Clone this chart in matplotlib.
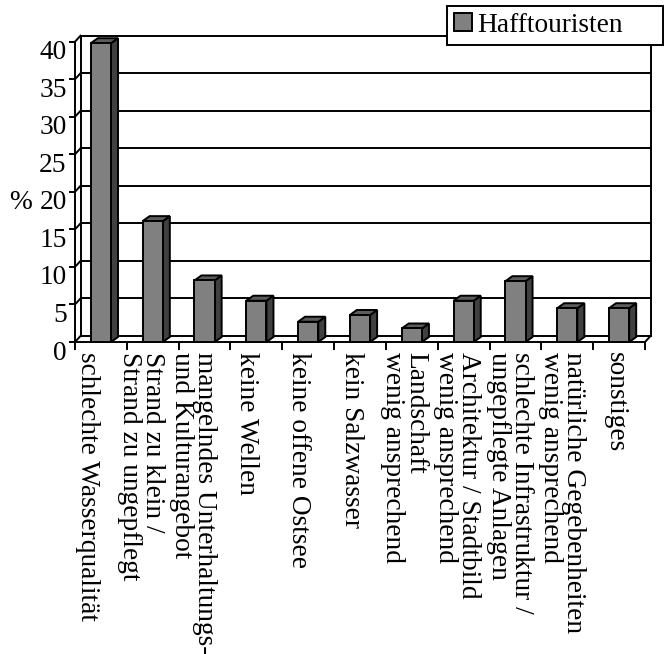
import matplotlib
matplotlib.use("Agg")
import matplotlib.pyplot as plt
import matplotlib.transforms as mtransforms
from matplotlib.patches import Rectangle, Polygon, Patch
import numpy as np

categories = [
    "schlechte Wasserqualität",
    "Strand zu klein /\nStrand zu ungepflegt",
    "mangelndes Unterhaltungs-\nund Kulturangebot",
    "keine Wellen",
    "keine offene Ostsee",
    "kein Salzwasser",
    "Landschaft\nwenig ansprechend",
    "Architektur / Stadtbild\nwenig ansprechend",
    "schlechte Infrastruktur /\nungepflegte Anlagen",
    "natürliche Gegebenheiten\nwenig ansprechend",
    "sonstiges",
]
values = [39.8, 16.1, 8.2, 5.5, 2.7, 3.6, 1.8, 5.5, 8.1, 4.5, 4.5]
series_name = "Hafftouristen"
y_ticks = [0, 5, 10, 15, 20, 25, 30, 35, 40]
y_label = "%"

W, H, DPI = 665, 654, 100
FONT = "Liberation Serif"
FS = 19.7
LW = 1.4
FRONT = "#808080"
SIDE = "#404040"
TOP = "#5c5c5c"

plt.rcParams["font.family"] = [FONT, "DejaVu Serif"]

fig = plt.figure(figsize=(W / DPI, H / DPI), dpi=DPI)
left_px, right_px, y0_px, ytop_px = 75, 645, 342, 41.7
ax = fig.add_axes([left_px / W, 1 - y0_px / H, (right_px - left_px) / W, (y0_px - ytop_px) / H])
n = len(categories)
ax.set_xlim(0, n)
ax.set_ylim(0, 40)
ax.patch.set_visible(False)
for s in ["top", "right"]:
    ax.spines[s].set_visible(False)
ax.spines["left"].set_linewidth(LW)
ax.spines["bottom"].set_linewidth(LW)


def px2data(dxp, dyp):
    x0, y0 = ax.transData.transform((0, 0))
    return tuple(ax.transData.inverted().transform((x0 + dxp, y0 + dyp)))

# wall depth and bar depth (in pixels -> data)
wdx, wdy = px2data(5.5, 6)
bdx, bdy = px2data(7, 5)

ymax = y_ticks[-1]
# back wall grid lines
for yv in y_ticks:
    ax.plot([wdx, n + wdx], [yv + wdy, yv + wdy], color="black", lw=LW, zorder=1, clip_on=False)
    ax.plot([0, wdx], [yv, yv + wdy], color="black", lw=LW, zorder=1, clip_on=False)
ax.plot([wdx, wdx], [wdy, ymax + wdy], color="black", lw=LW, zorder=1, clip_on=False)
ax.plot([n + wdx, n + wdx], [wdy, ymax + wdy], color="black", lw=LW, zorder=1, clip_on=False)
ax.plot([n, n + wdx], [0, wdy], color="black", lw=LW, zorder=1, clip_on=False)

# bars
bw = 0.39
for i, v in enumerate(values):
    x0 = i + 0.5 - bw / 2
    x1 = x0 + bw
    ax.add_patch(Polygon([(x1, 0), (x1 + bdx, bdy), (x1 + bdx, v + bdy), (x1, v)], closed=True,
                         facecolor=SIDE, edgecolor="black", lw=LW, zorder=3, clip_on=False))
    ax.add_patch(Polygon([(x0, v), (x1, v), (x1 + bdx, v + bdy), (x0 + bdx, v + bdy)], closed=True,
                         facecolor=TOP, edgecolor="black", lw=LW, zorder=3, clip_on=False))
    ax.add_patch(Rectangle((x0, 0), bw, v, facecolor=FRONT, edgecolor="black", lw=LW, zorder=4,
                           clip_on=False, label=series_name if i == 0 else None))

# y axis ticks
ax.set_yticks(y_ticks)
ax.set_yticklabels([str(t) for t in y_ticks], fontsize=FS, fontfamily=FONT)
ax.tick_params(axis="y", direction="out", length=4, width=LW, pad=2)
for lab in ax.get_yticklabels():
    lab.set_transform(lab.get_transform() + mtransforms.ScaledTranslation(0, -8 / DPI, fig.dpi_scale_trans))

# x axis ticks: boundaries (major), labels at centers (minor)
ax.set_xticks(np.arange(n + 1))
ax.set_xticklabels([])
ax.tick_params(axis="x", which="major", direction="out", length=6, width=LW)
ax.set_xticks(np.arange(n) + 0.5, minor=True)
ax.set_xticklabels(categories, minor=True, rotation=270, fontsize=FS, fontfamily=FONT,
                   ha="center", va="top", multialignment="left", linespacing=0.9)
ax.tick_params(axis="x", which="minor", length=0, pad=7)
for i, lab in enumerate(ax.get_xticklabels(minor=True)):
    shift = -13 + 0.9 * i
    lab.set_transform(lab.get_transform() + mtransforms.ScaledTranslation(shift / DPI, 0, fig.dpi_scale_trans))

# % label
fig.text(20 / W, 1 - 203 / H, y_label, fontsize=FS, fontfamily=FONT, ha="center", va="center")

# legend
handle = Patch(facecolor=FRONT, edgecolor="black", lw=LW, label=series_name)
leg = fig.legend(handles=[handle], loc="upper left",
                 bbox_to_anchor=(447 / W, 1 - 47 / H, 216 / W, 41 / H),
                 bbox_transform=fig.transFigure, mode="expand", fancybox=False, shadow=False,
                 framealpha=1, edgecolor="black", borderaxespad=0, borderpad=0.25,
                 handlelength=0.65, handleheight=0.65, handletextpad=0.22,
                 prop={"family": FONT, "size": FS})
leg.get_frame().set_linewidth(LW)

fig.savefig("out.png", dpi=DPI)
